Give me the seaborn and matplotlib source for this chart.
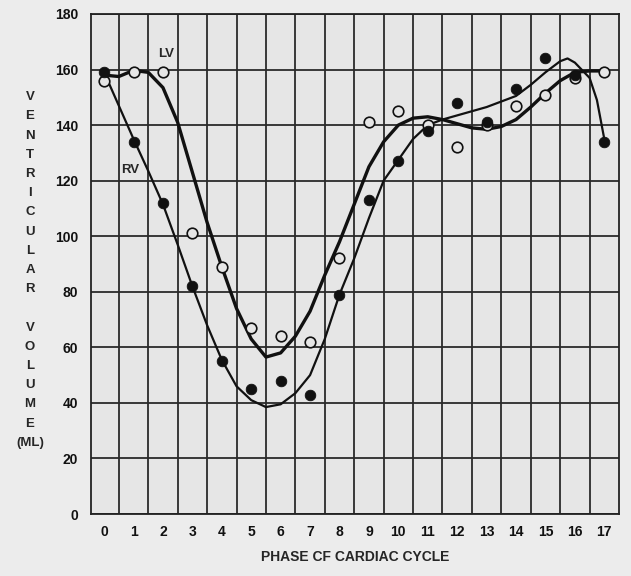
import numpy as np
import pandas as pd
import seaborn as sns
import matplotlib.pyplot as plt

# measured points (open = LV, filled = RV)
phase = list(range(18))
lv_vol = [156, 159, 159, 101, 89, 67, 64, 62, 92, 141, 145, 140, 132, 140, 147, 151, 157, 159]
rv_vol = [159, 134, 112, 82, 55, 45, 48, 43, 79, 113, 127, 138, 148, 141, 153, 164, 158, 134]

# fitted curves
lv_fit_x = [0, 0.5, 1, 1.5, 2, 2.5, 3, 3.5, 4, 4.5, 5, 5.5, 6, 6.5, 7, 7.5, 8, 8.5, 9,
            9.5, 10, 10.5, 11, 11.5, 12, 12.5, 13, 13.5, 14, 14.5, 15, 15.5, 16, 16.5, 17]
lv_fit_y = [158, 157.5, 159.7, 159, 153.5, 141, 123, 105, 89, 74, 63, 56.5, 58, 64, 73,
            86, 98, 111.5, 125, 134, 140, 142.5, 143, 142, 140.5, 139, 138.5, 139.5, 142,
            146.5, 151.5, 156, 159, 159.5, 159.5]
rv_fit_x = [0, 0.5, 1, 1.5, 2, 2.5, 3, 3.5, 4, 4.5, 5, 5.5, 6, 6.5, 7, 7.5, 8, 8.5, 9,
            9.5, 10, 10.5, 11, 11.5, 12, 12.5, 13, 13.5, 14, 14.5, 15, 15.5, 15.75, 16,
            16.5, 16.75, 17]
rv_fit_y = [159, 147, 135, 123.5, 111.5, 97, 82, 68, 55.5, 46, 41, 38.5, 39.5, 43.5, 50,
            63, 79, 92, 106.5, 120, 127.5, 135, 140, 142, 143.5, 145, 146.5, 148.5, 150.5,
            154.5, 159, 163, 164, 162.5, 157, 149, 135]

y_ticks = list(range(0, 181, 20))
ylabel_letters = list("VENTRICULAR") + [""] + list("VOLUME") + ["(ML)"]

sns.set_theme(style="ticks")
plt.rcParams['font.family'] = ['Liberation Sans', 'DejaVu Sans']

pts = pd.DataFrame({'phase': phase + phase,
                    'vol': lv_vol + rv_vol,
                    'ventricle': ['LV'] * 18 + ['RV'] * 18})
lv_fit = pd.DataFrame({'phase': lv_fit_x, 'vol': lv_fit_y})
rv_fit = pd.DataFrame({'phase': rv_fit_x, 'vol': rv_fit_y})

bg = '#e6e6e6'
fig, ax = plt.subplots(figsize=(6.31, 5.76), dpi=100)
fig.patch.set_facecolor('#ececec')
ax.set_facecolor(bg)
fig.subplots_adjust(left=0.144, right=0.981, bottom=0.1076, top=0.9757)

sns.lineplot(data=lv_fit, x='phase', y='vol', ax=ax, color='#111111', lw=2.4, zorder=3,
             sort=False)
sns.lineplot(data=rv_fit, x='phase', y='vol', ax=ax, color='#111111', lw=1.6, zorder=3,
             sort=False)
sns.scatterplot(data=pts[pts.ventricle == 'LV'], x='phase', y='vol', ax=ax, s=58,
                marker='o', facecolor=bg, edgecolor='#111111', linewidth=1.2, zorder=4)
sns.scatterplot(data=pts[pts.ventricle == 'RV'], x='phase', y='vol', ax=ax, s=58,
                marker='o', color='#111111', edgecolor='#111111', zorder=5)

ax.text(2.1, 165.5, 'LV', fontsize=9.5, fontweight='bold', ha='center', va='center')
ax.text(0.9, 124, 'RV', fontsize=9.5, fontweight='bold', ha='center', va='center')

ax.set_xlim(-0.45, 17.5)
ax.set_ylim(0, 180)
ax.set_xticks(phase)
ax.set_xticks(np.arange(0.5, 17, 1), minor=True)
ax.set_yticks(y_ticks)
ax.grid(False)
ax.grid(True, which='minor', axis='x', color='#2a2a2a', lw=1.3)
ax.grid(True, which='major', axis='y', color='#2a2a2a', lw=1.3)
ax.tick_params(which='both', length=0)
ax.tick_params(axis='y', pad=9)
ax.tick_params(axis='x', pad=8)
for lab in ax.get_xticklabels() + ax.get_yticklabels():
    lab.set_fontweight('bold')
    lab.set_fontsize(10)
    lab.set_color('#111111')
for s in ax.spines.values():
    s.set_color('#222222')
    s.set_linewidth(1.3)

ax.set_xlabel('PHASE CF CARDIAC CYCLE', fontsize=10, fontweight='bold', labelpad=8)
ax.set_ylabel('')
fig.text(30 / 631, 1 - 270 / 576, '\n'.join(ylabel_letters), ha='center', va='center',
         fontsize=9.5, fontweight='bold', linespacing=1.8)

plt.savefig('out.png', dpi=100, facecolor=fig.get_facecolor())
